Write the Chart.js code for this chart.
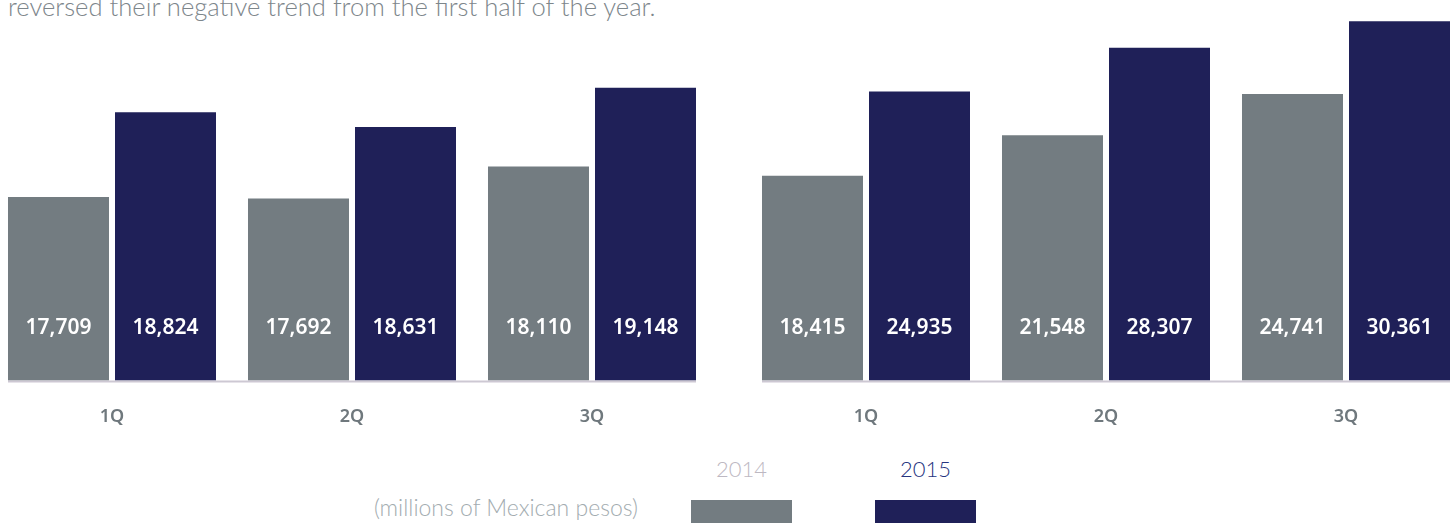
<!DOCTYPE html>
<html>
<head>
<meta charset="utf-8" />
<title>Quarterly results 2014 vs 2015</title>
<script src="https://cdn.jsdelivr.net/npm/chart.js@4/dist/chart.umd.min.js"></script>
<style>
    html, body { margin: 0; padding: 0; background: #fff; }
    #page { position: relative; width: 1450px; height: 523px; overflow: hidden; font-family: "Lato", sans-serif; }
    .lead { position: absolute; left: 8px; top: -6px; font-size: 25.6px; line-height: 1; font-weight: 300; color: #7d868b; white-space: nowrap; }
    .panel { position: absolute; top: 0; }
    .year { position: absolute; top: 458px; width: 101px; text-align: center; font-size: 22px; line-height: 1; font-weight: 300; }
    .swatch { position: absolute; top: 500px; width: 101px; height: 23px; }
    .unit { position: absolute; right: 812px; top: 496px; font-size: 23px; line-height: 1; font-weight: 300; color: #a3acb0; white-space: nowrap; }
</style>
</head>
<body>
<div id="page">
    <div class="lead">reversed their negative trend from the first half of the year.</div>
    <canvas id="chartA" class="panel" width="720" height="454" style="left:-8px"></canvas>
    <canvas id="chartB" class="panel" width="720" height="454" style="left:746px"></canvas>

    <div class="year" id="year0" style="left:691px"></div>
    <div class="year" id="year1" style="left:875px"></div>
    <div class="unit">(millions of Mexican pesos)</div>
    <div class="swatch" id="swatch0" style="left:691px"></div>
    <div class="swatch" id="swatch1" style="left:875px"></div>
</div>

<script>
    // data
    const quarters = ['1Q', '2Q', '3Q'];
    const years = ['2014', '2015'];

    const panelA2014 = [17709, 17692, 18110];
    const panelA2015 = [18824, 18631, 19148];

    const panelB2014 = [18415, 21548, 24741];
    const panelB2015 = [24935, 28307, 30361];

    const panelAMin = 15300, panelAMax = 20300;
    const panelBMin = 2600, panelBMax = 32000;

    const barColors = ['#737c81', '#1f2058'];
    const yearTextColors = ['#bdb8c2', '#26347f'];
    const axisColor = '#cdc8d3';

    // legend above the swatches
    years.forEach((y, i) => {
        const t = document.getElementById('year' + i);
        t.textContent = y;
        t.style.color = yearTextColors[i];
        document.getElementById('swatch' + i).style.background = barColors[i];
    });

    function fmt(v) {
        return String(v).replace(/\B(?=(\d{3})+(?!\d))/g, ',');
    }

    // base line under the bars + values written near the bottom of each bar
    const barExtras = {
        id: 'barExtras',
        afterDatasetsDraw(chart) {
            const ctx = chart.ctx;
            const yScale = chart.scales.y;
            const yBase = yScale.getPixelForValue(yScale.min);
            const first = chart.getDatasetMeta(0).data[0];
            const lastMeta = chart.getDatasetMeta(chart.data.datasets.length - 1);
            const last = lastMeta.data[lastMeta.data.length - 1];

            ctx.save();
            ctx.strokeStyle = axisColor;
            ctx.lineWidth = 2;
            ctx.beginPath();
            ctx.moveTo(first.x - first.width / 2, yBase + 1);
            ctx.lineTo(last.x + last.width / 2, yBase + 1);
            ctx.stroke();

            ctx.fillStyle = '#ffffff';
            ctx.font = '600 21px "Noto Sans"';
            ctx.textAlign = 'center';
            ctx.textBaseline = 'alphabetic';
            chart.data.datasets.forEach((ds, i) => {
                chart.getDatasetMeta(i).data.forEach((bar, j) => {
                    ctx.fillText(fmt(ds.data[j]), bar.x, yBase - 46);
                });
            });
            ctx.restore();
        }
    };

    function makeChart(id, s2014, s2015, min, max) {
        return new Chart(document.getElementById(id), {
            type: 'bar',
            data: {
                labels: quarters,
                datasets: [s2014, s2015].map((d, i) => ({
                    label: years[i],
                    data: d,
                    backgroundColor: barColors[i],
                    borderWidth: 0,
                    categoryPercentage: 0.8917,
                    barPercentage: 0.9439
                }))
            },
            options: {
                responsive: false,
                animation: false,
                layout: { padding: 0 },
                plugins: {
                    legend: { display: false },
                    tooltip: { enabled: false }
                },
                scales: {
                    x: {
                        grid: { display: false, drawTicks: false },
                        border: { display: false },
                        ticks: {
                            color: '#6f787d',
                            font: { family: '"Noto Sans"', size: 18, weight: '600' },
                            padding: 26
                        }
                    },
                    y: { display: false, min: min, max: max }
                }
            },
            plugins: [barExtras]
        });
    }

    makeChart('chartA', panelA2014, panelA2015, panelAMin, panelAMax);
    makeChart('chartB', panelB2014, panelB2015, panelBMin, panelBMax);
</script>
</body>
</html>
